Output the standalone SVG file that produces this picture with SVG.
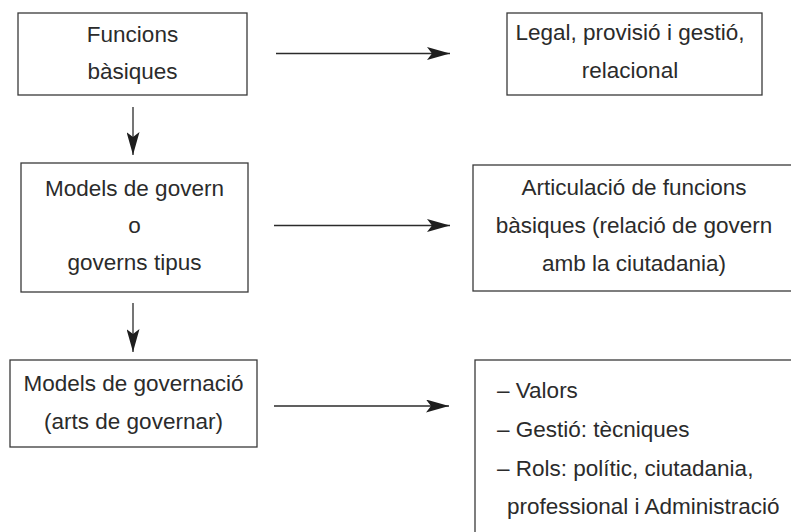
<svg xmlns="http://www.w3.org/2000/svg" width="791" height="532" viewBox="0 0 791 532">
<style>
.box{fill:#fff;stroke:#3a3a3a;stroke-width:1.3}
.t{font-family:"Liberation Sans",Arial,sans-serif;font-size:22.5px;fill:#2b2b2b}
.c{text-anchor:middle}
.conn{stroke:#2b2b2b;stroke-width:1.3;fill:none;marker-end:url(#ah)}
</style>
<defs>
<marker id="ah" viewBox="0 0 23 13" refX="23" refY="6.5" markerWidth="23" markerHeight="13" markerUnits="userSpaceOnUse" orient="auto">
<path d="M0,0 L23,6.5 L0,13 L5,6.5 Z" fill="#1e1e1e"/>
</marker>
</defs>
<rect width="791" height="532" fill="#fff"/>
<g id="n1">
<rect class="box" x="18" y="13" width="229" height="82"/>
<text class="t c" x="132.5" y="42">Funcions</text>
<text class="t c" x="132.5" y="79">bàsiques</text>
</g>
<g id="n2">
<rect class="box" x="507" y="13" width="255" height="82"/>
<text class="t c" x="630" y="40">Legal, provisió i gestió,</text>
<text class="t c" x="630" y="78">relacional</text>
</g>
<g id="n3">
<rect class="box" x="21" y="163" width="227" height="129"/>
<text class="t c" x="134.5" y="196">Models de govern</text>
<text class="t c" x="134.5" y="233">o</text>
<text class="t c" x="134.5" y="270">governs tipus</text>
</g>
<g id="n4">
<rect class="box" x="473" y="165" width="330" height="126"/>
<text class="t c" x="634" y="195">Articulació de funcions</text>
<text class="t c" x="634" y="233">bàsiques (relació de govern</text>
<text class="t c" x="634" y="271">amb la ciutadania)</text>
</g>
<g id="n5">
<rect class="box" x="10" y="360" width="247" height="87"/>
<text class="t c" x="133.5" y="391">Models de governació</text>
<text class="t c" x="133.5" y="429">(arts de governar)</text>
</g>
<g id="n6">
<rect class="box" x="475" y="360" width="330" height="190"/>
<text class="t" x="497" y="398">– Valors</text>
<text class="t" x="497" y="437">– Gestió: tècniques</text>
<text class="t" x="497" y="476">– Rols: polític, ciutadania,</text>
<text class="t" x="507" y="514">professional i Administració</text>
</g>
<g id="connectors">
<line class="conn" x1="276" y1="53.5" x2="450" y2="53.5"/>
<line class="conn" x1="133" y1="107" x2="133" y2="155"/>
<line class="conn" x1="274" y1="225.5" x2="450" y2="225.5"/>
<line class="conn" x1="133" y1="303" x2="133" y2="352"/>
<line class="conn" x1="274" y1="406" x2="449" y2="406"/>
</g>
</svg>
